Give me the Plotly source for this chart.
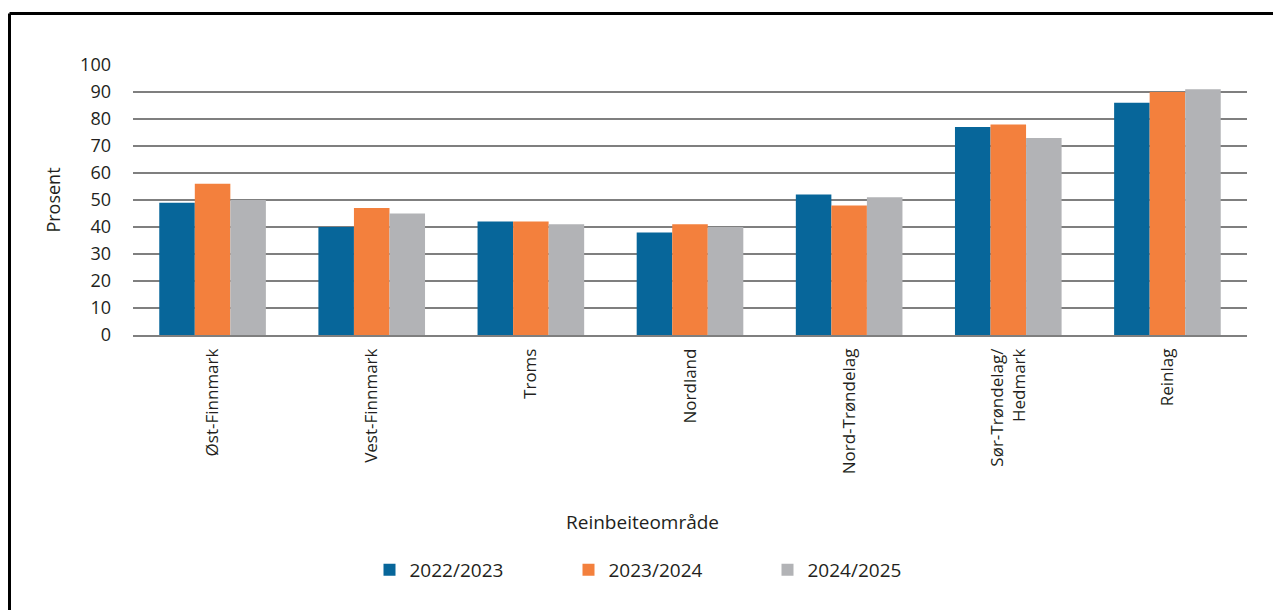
import plotly.graph_objects as go

omrader = ["Øst-Finnmark", "Vest-Finnmark", "Troms", "Nordland", "Nord-Trøndelag",
           "Sør-Trøndelag/<br>Hedmark", "Reinlag"]
ar_2022 = [49, 40, 42, 38, 52, 77, 86]
ar_2023 = [56, 47, 42, 41, 48, 78, 90]
ar_2024 = [50, 45, 41, 40, 51, 73, 91]
serier = ["2022/2023", "2023/2024", "2024/2025"]
farger = ["#07669a", "#f3803d", "#b2b3b6"]

W, H = 1273, 610
L, R, T, B = 133, 26, 65, 275
PW, PH = W - L - R, H - T - B


def px(x):
    return (x - L) / PW


def py(y):
    return (H - B - y) / PH


txt = "#231f20"
fig = go.Figure()
for navn, verdier, farge in zip(serier, [ar_2022, ar_2023, ar_2024], farger):
    fig.add_trace(go.Bar(x=omrader, y=verdier, name=navn, marker_color=farge,
                         marker_line_width=0))

fig.update_layout(
    width=W, height=H,
    paper_bgcolor="white", plot_bgcolor="white",
    margin=dict(l=L, r=R, t=T, b=B),
    barmode="group", bargap=0.33, bargroupgap=0,
    font=dict(family="Open Sans, sans-serif", size=17, color=txt),
    showlegend=True,
    legend=dict(orientation="h", x=668 / W, xanchor="center", xref="container",
                y=1 - 570 / H, yanchor="middle", yref="container",
                entrywidth=154, font=dict(size=19), itemwidth=30),
)
fig.update_xaxes(tickangle=-90, showgrid=False, showline=True, linecolor="#7f7f7f",
                 linewidth=1.5, ticks="", ticklabelstandoff=5,
                 tickfont=dict(size=17))
fig.update_yaxes(range=[0, 100], dtick=10, showgrid=True, gridcolor="#7f7f7f",
                 gridwidth=1.5, zeroline=False, ticks="", ticklabelstandoff=21,
                 tickfont=dict(size=18),
                 title=dict(text="Prosent", standoff=14, font=dict(size=18)))

fig.add_annotation(text="Reinbeiteområde", xref="paper", yref="paper",
                   x=px(642), y=py(522), showarrow=False,
                   xanchor="center", yanchor="middle",
                   font=dict(size=19, color=txt))

# ramme (venstre og topp)
fig.add_shape(type="line", xref="paper", yref="paper",
              x0=px(9.5), x1=px(W), y0=py(13.5), y1=py(13.5),
              line=dict(color="black", width=3))
fig.add_shape(type="line", xref="paper", yref="paper",
              x0=px(9.5), x1=px(9.5), y0=py(13.5), y1=py(H),
              line=dict(color="black", width=3))

fig.write_html("out.html", config={"displayModeBar": False},
               post_script="document.body.style.margin='0';document.body.style.overflow='hidden';")
